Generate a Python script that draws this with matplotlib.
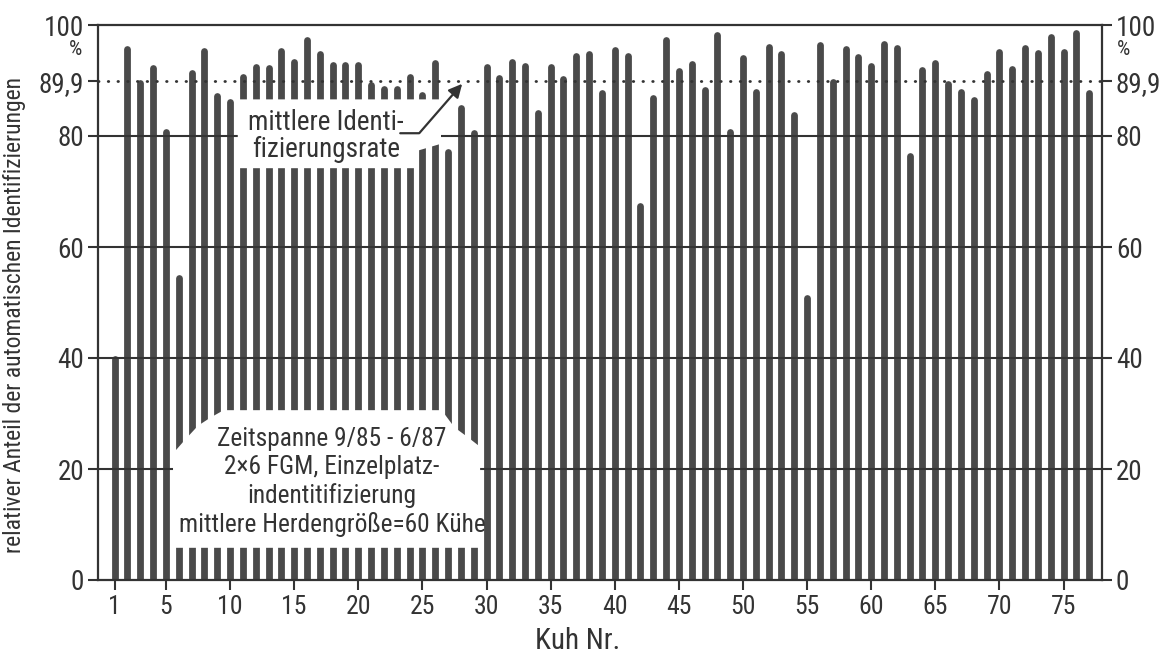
import numpy as np
import matplotlib
matplotlib.use("Agg")
import matplotlib.pyplot as plt
from matplotlib import font_manager
from matplotlib.patches import Polygon

# Identification rate per cow (%)
cows = np.arange(1, 78)
rate = [40.5, 96.2, 90.1, 92.8, 81.3, 55.0, 92.0, 96.0, 87.8, 86.8,
        91.3, 93.1, 92.8, 95.9, 94.0, 98.0, 95.4, 93.4, 93.4, 93.4,
        89.8, 89.0, 89.0, 91.3, 88.0, 93.7, 77.8, 85.6, 81.1, 93.0,
        91.0, 94.0, 93.2, 84.7, 93.0, 90.8, 95.0, 95.4, 88.4, 96.1,
        95.0, 68.0, 87.4, 97.9, 92.4, 93.6, 88.9, 98.8, 81.4, 94.6,
        88.5, 96.7, 95.4, 84.4, 51.4, 97.0, 90.4, 96.2, 94.9, 93.2,
        97.2, 96.4, 77.0, 92.5, 93.7, 90.0, 88.6, 87.1, 91.8, 95.8,
        92.6, 96.4, 95.5, 98.5, 95.8, 99.2, 88.3]
mean_rate = 89.9

x_ticks = [1, 5, 10, 15, 20, 25, 30, 35, 40, 45, 50, 55, 60, 65, 70, 75]
y_ticks = [0, 20, 40, 60, 80, 89.9, 100]
y_tick_labels = ["0", "20", "40", "60", "80", "89,9", "100"]
grid_levels = [20, 40, 60, 80]

title_x = "Kuh Nr."
title_y = "relativer Anteil der automatischen Identifizierungen"
note_mean = "mittlere Identi-\nfizierungsrate"
note_info = ("Zeitspanne 9/85 - 6/87\n2×6 FGM, Einzelplatz-\n"
             "indentitifizierung\nmittlere Herdengröße=60 Kühe")


def narrow_font():
    entries = font_manager.fontManager.ttflist
    names = {f.name for f in entries}
    for n in ["Liberation Sans Narrow", "Roboto Condensed",
              "Open Sans Condensed", "DejaVu Sans Condensed"]:
        if n in names:
            return n, "normal"
    for f in entries:
        if f.name == "DejaVu Sans" and str(f.stretch) in ("condensed", "semi-condensed"):
            return "DejaVu Sans", "condensed"
    return "DejaVu Sans", "normal"


family, stretch = narrow_font()
plt.rcParams["font.family"] = [family, "DejaVu Sans"]
plt.rcParams["font.stretch"] = stretch

ink = "#333333"
bar_color = "#4a4a4a"

W, H, DPI = 1168, 656, 100
fig = plt.figure(figsize=(W / DPI, H / DPI), dpi=DPI)
ax = fig.add_axes([98 / W, 1 - 580 / H, (1102 - 98) / W, (580 - 25) / H])
ax.set_xlim(-0.3, 78.0)
ax.set_ylim(0, 100)

# bars as thick lines with rounded tops; pull the top back by half the stroke
bar_px = 6.8
px_per_unit = ax.get_position().height * H / 100.0
half = (bar_px / 2) / px_per_unit
bars = ax.vlines(cows, 0, np.array(rate) - half, colors=bar_color,
                 linewidth=bar_px * 72 / DPI, zorder=2)
bars.set_capstyle("round")

for g in grid_levels:
    ax.axhline(g, color=ink, lw=1.5, zorder=3)
ax.axhline(mean_rate, color=ink, lw=2.0, ls=(0, (0.2, 3.3)),
           dash_capstyle="round", zorder=3)

# white label panels cut through the bars
upper_panel = Polygon([(10.6, 74.2), (24.55, 74.2), (24.55, 77.3), (26.45, 78.6),
                       (26.45, 86.6), (10.6, 86.6)],
                      closed=True, facecolor="white", edgecolor="none", zorder=4)
lower_panel = Polygon([(5.55, 5.8), (5.55, 22.8), (6.5, 25.3), (7.5, 27.8),
                       (8.5, 29.3), (9.5, 30.6), (26.5, 30.6), (27.5, 27.5),
                       (28.5, 25.8), (29.5, 24.0), (29.5, 5.8)],
                      closed=True, facecolor="white", edgecolor="none", zorder=4)
ax.add_patch(upper_panel)
ax.add_patch(lower_panel)

ax.text(17.5, 80.0, note_mean, ha="center", va="center", fontsize=19.5,
        linespacing=1.0, color=ink, zorder=6)
ax.text(17.95, 17.6, note_info, ha="center", va="center", fontsize=18.3,
        linespacing=1.2, color=ink, zorder=6)

ax.annotate("", xy=(28.1, 89.4), xytext=(23.27, 80.5),
            arrowprops=dict(arrowstyle="-|>", color=ink, lw=1.6,
                            connectionstyle="angle,angleA=0,angleB=49,rad=0",
                            mutation_scale=20, shrinkA=0, shrinkB=0),
            zorder=6)

# axes, ticks and labels
for s in ax.spines.values():
    s.set_color(ink)
    s.set_linewidth(1.6)
ax.set_xticks(x_ticks)
ax.set_xticklabels([str(t) for t in x_ticks])
ax.set_yticks(y_ticks)
ax.set_yticklabels(y_tick_labels)
ax.tick_params(axis="x", direction="out", length=7, width=1.5, colors=ink,
               labelsize=18.5, pad=4)
ax.tick_params(axis="y", which="both", direction="out", length=7, width=1.5,
               colors=ink, labelsize=19.5, pad=3, left=True, right=True,
               labelleft=True, labelright=True)

for xa, off in ((0.0, -22), (1.0, 21)):
    ax.annotate("%", xy=(xa, 95.6), xycoords=("axes fraction", "data"),
                xytext=(off, 0), textcoords="offset pixels",
                ha="center", va="center", fontsize=15, color=ink,
                annotation_clip=False)

fig.text(578 / W, 1 - 641 / H, title_x, ha="center", va="center",
         fontsize=21, color=ink)
fig.text(15 / W, 1 - 315 / H, title_y, ha="center", va="center",
         rotation=90, fontsize=17, color=ink)

fig.savefig("out.png", dpi=DPI, facecolor="white")
